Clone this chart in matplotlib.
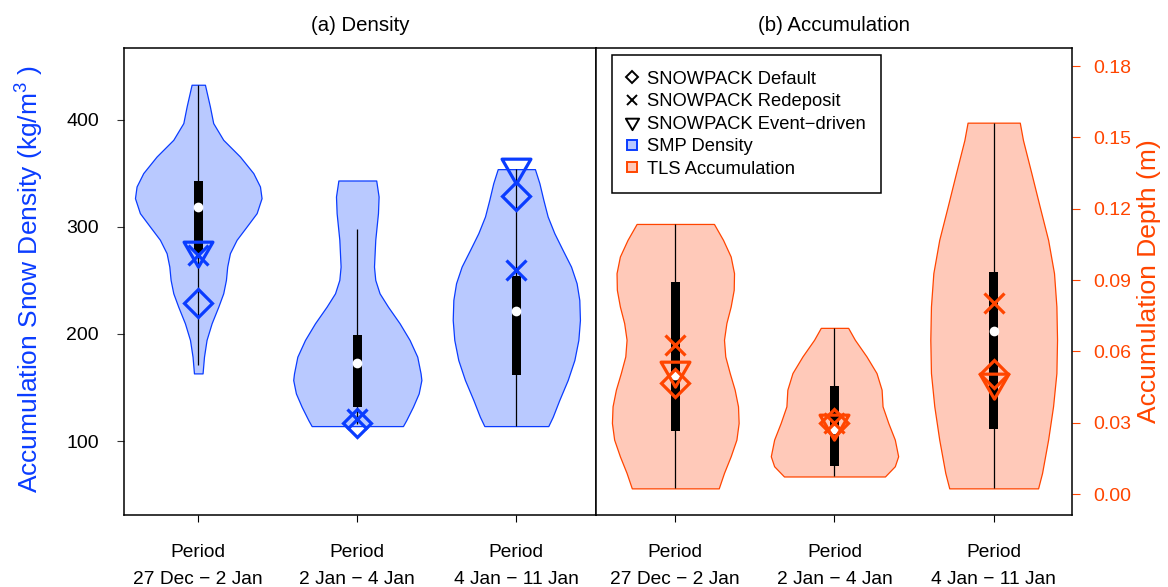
### violin plots of snow density and accumulation per period
import numpy as np
import matplotlib.pyplot as plt
from matplotlib.lines import Line2D
from matplotlib.path import Path

plt.rcParams['font.family'] = ['Liberation Sans', 'DejaVu Sans']
plt.rcParams['mathtext.fontset'] = 'custom'
plt.rcParams['mathtext.rm'] = 'Liberation Sans'
plt.rcParams['mathtext.it'] = 'Liberation Sans:italic'

periods = ['Period\n27 Dec \u2212 2 Jan', 'Period\n2 Jan \u2212 4 Jan', 'Period\n4 Jan \u2212 11 Jan']

### SMP density violins: outline levels (kg/m3) and half widths (x units)
dens_levels = [
    [432.7, 412.5, 396.9, 381.3, 365.7, 350.2, 337.7, 326.8, 312.8, 300.3, 287.9,
     275.4, 262.9, 250.5, 238.0, 225.5, 210.0, 194.4, 178.8, 163.2],
    [343.3, 328.3, 312.8, 287.9, 262.9, 250.5, 238.0, 225.5, 210.0, 194.4, 178.8,
     163.2, 157.0, 144.5, 132.1, 119.6, 114.0],
    [353.9, 340.8, 325.2, 309.7, 294.1, 278.5, 262.9, 247.4, 231.8, 213.1, 194.4,
     175.7, 157.0, 138.3, 122.7, 114.0],
]
dens_halfwidth = [
    [0.042, 0.073, 0.094, 0.157, 0.262, 0.346, 0.388, 0.398, 0.367, 0.304, 0.241,
     0.199, 0.182, 0.174, 0.157, 0.126, 0.084, 0.052, 0.036, 0.027],
    [0.119, 0.134, 0.130, 0.113, 0.105, 0.113, 0.140, 0.193, 0.266, 0.329, 0.377,
     0.398, 0.403, 0.386, 0.350, 0.308, 0.287],
    [0.117, 0.145, 0.170, 0.197, 0.239, 0.291, 0.344, 0.379, 0.396, 0.400, 0.390,
     0.365, 0.323, 0.270, 0.229, 0.201],
]
dens_whisk_lo = [171, 116, 114]
dens_whisk_hi = [432, 298, 354]
dens_q1 = [276, 132, 162]
dens_q3 = [343, 199, 254]
dens_median = [319, 173, 221]

### SNOWPACK density
dens_default = [229, 116.5, 329]
dens_redeposit = [274, 121, 260]
dens_event = [278.5, np.nan, 356]

### TLS accumulation violins: outline levels (m) and half widths (x units)
acc_levels = [
    [0.1136, 0.1069, 0.0999, 0.0929, 0.0859, 0.0789, 0.0719, 0.0649, 0.0579, 0.0509,
     0.0439, 0.0369, 0.0299, 0.0229, 0.0159, 0.0089, 0.0024],
    [0.0699, 0.0649, 0.0579, 0.0509, 0.0439, 0.0369, 0.0299, 0.0229, 0.0159, 0.0117,
     0.0074],
    [0.1562, 0.1489, 0.1349, 0.1209, 0.1069, 0.0929, 0.0789, 0.0649, 0.0509, 0.0369,
     0.0229, 0.0089, 0.0024],
]
acc_halfwidth = [
    [0.243, 0.300, 0.348, 0.369, 0.367, 0.348, 0.321, 0.306, 0.314, 0.342,
     0.373, 0.394, 0.398, 0.384, 0.348, 0.306, 0.273],
    [0.086, 0.128, 0.201, 0.264, 0.296, 0.302, 0.338, 0.379, 0.400, 0.379, 0.317],
    [0.164, 0.184, 0.237, 0.289, 0.342, 0.379, 0.394, 0.398, 0.394, 0.373,
     0.342, 0.304, 0.279],
]
acc_whisk_lo = [0.0024, 0.0074, 0.0024]
acc_whisk_hi = [0.1136, 0.0699, 0.1562]
acc_q1 = [0.0264, 0.0119, 0.0273]
acc_q3 = [0.0890, 0.0453, 0.0932]
acc_median = [0.0502, 0.0273, 0.0687]

### SNOWPACK accumulation
acc_default = [0.0467, 0.0299, 0.0506]
acc_redeposit = [0.0628, 0.0300, 0.0805]
acc_event = [0.0520, 0.0300, 0.0473]

blue = '#0A3CFF'
blue_fill = '#B9C9FF'
orange = '#FF4500'
orange_fill = '#FFC9B9'

### down triangle with its centroid on the point (like R pch 6)
tri_down = Path([(-0.866, 0.5), (0.866, 0.5), (0.0, -1.0), (-0.866, 0.5)], closed=True)


def draw_violins(ax, levels, halfwidth, lo, hi, q1, q3, med, edge, fill):
    pos = np.arange(1, len(levels) + 1)
    for i, p in enumerate(pos):
        y = np.array(levels[i])
        w = np.array(halfwidth[i])
        ax.fill_betweenx(y, p - w, p + w, facecolor=fill, edgecolor=edge, lw=0.9, zorder=1)
    ax.vlines(pos, lo, hi, color='black', lw=0.9, zorder=2)
    ax.bar(pos, np.array(q3) - np.array(q1), bottom=q1, width=0.058, color='black', zorder=3)
    ax.plot(pos, med, 'o', color='white', ms=7, mec='none', ls='none', zorder=4)


def draw_models(ax, default, redeposit, event, col):
    pos = np.arange(1, len(default) + 1)
    ax.plot(pos, default, 'D', mfc='none', mec=col, ms=14, mew=2.3, ls='none', zorder=5)
    ax.plot(pos, redeposit, 'x', color=col, ms=15, mew=2.3, ls='none', zorder=5)
    ax.plot(pos, event, marker=tri_down, mfc='none', mec=col, ms=24, mew=2.3, ls='none', zorder=5)


fig = plt.figure(figsize=(11.68, 5.87), dpi=100)
ax1 = fig.add_axes([124 / 1168, 1 - 515 / 587, 472 / 1168, 467 / 587])
ax2 = fig.add_axes([596 / 1168, 1 - 515 / 587, 476 / 1168, 467 / 587])

draw_violins(ax1, dens_levels, dens_halfwidth, dens_whisk_lo, dens_whisk_hi,
             dens_q1, dens_q3, dens_median, blue, blue_fill)
draw_models(ax1, dens_default, dens_redeposit, dens_event, blue)

draw_violins(ax2, acc_levels, acc_halfwidth, acc_whisk_lo, acc_whisk_hi,
             acc_q1, acc_q3, acc_median, orange, orange_fill)
draw_models(ax2, acc_default, acc_redeposit, acc_event, orange)

### axes
ax1.set_xlim(0.533, 3.501)
ax1.set_ylim(31, 467)
ax2.set_xlim(0.502, 3.492)
ax2.set_ylim(-0.0088, 0.1876)

for ax in (ax1, ax2):
    for s in ax.spines.values():
        s.set_linewidth(1.1)
    ax.set_xticks([1, 2, 3])
    ax.set_xticklabels(periods, fontsize=13.8, linespacing=1.75)
    ax.tick_params(axis='x', length=5, width=0.8, pad=16)

ax1.set_yticks([100, 200, 300, 400])
ax1.tick_params(axis='y', labelsize=14, length=5, width=0.8, pad=13, color='#333333')

ax2.yaxis.tick_right()
ax2.set_yticks(np.arange(0, 0.181, 0.03))
ax2.set_yticklabels(['%.2f' % v for v in np.arange(0, 0.181, 0.03)])
ax2.tick_params(axis='y', labelsize=14, length=6, width=0.8, pad=9,
                color=orange, labelcolor=orange)

ax1.set_title('(a) Density', fontsize=14.7, pad=12.5)
ax2.set_title('(b) Accumulation', fontsize=14.7, pad=12.5)

fig.text(30 / 1168, 1 - 279 / 587, 'Accumulation Snow Density (kg/m$^3$ )', color=blue,
         fontsize=19, rotation=90, ha='center', va='center')
fig.text(1149 / 1168, 1 - 281 / 587, 'Accumulation Depth (m)', color=orange,
         fontsize=19, rotation=90, ha='center', va='center')

### legend
handles = [
    Line2D([], [], marker='D', mfc='none', mec='black', ms=6.5, mew=1.4, ls='none'),
    Line2D([], [], marker='x', color='black', ms=7.5, mew=1.4, ls='none'),
    Line2D([], [], marker=tri_down, mfc='none', mec='black', ms=11, mew=1.4, ls='none'),
    Line2D([], [], marker='s', mfc=blue_fill, mec=blue, ms=7, mew=1.4, ls='none'),
    Line2D([], [], marker='s', mfc=orange_fill, mec=orange, ms=7, mew=1.4, ls='none'),
]
labels = ['SNOWPACK Default', 'SNOWPACK Redeposit', 'SNOWPACK Event\u2212driven',
          'SMP Density', 'TLS Accumulation']
leg = ax2.legend(handles, labels, loc='upper left', bbox_to_anchor=(612 / 1168, 1 - 55 / 587),
                 bbox_transform=fig.transFigure, borderaxespad=0, fontsize=13.2,
                 frameon=True, fancybox=False, framealpha=1, edgecolor='black',
                 borderpad=0.85, handlelength=0.5, handletextpad=0.55, labelspacing=0.3)
leg.get_frame().set_linewidth(1.1)

fig.savefig('out.png', dpi=100)
